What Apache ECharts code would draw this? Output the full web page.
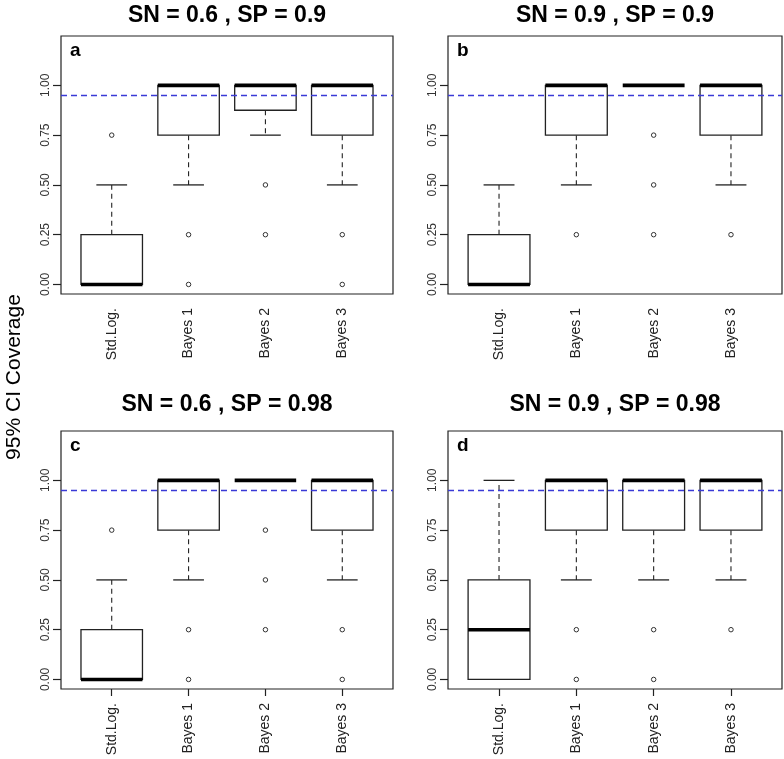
<!DOCTYPE html>
<html>
<head>
<meta charset="utf-8">
<script src="https://cdn.jsdelivr.net/npm/echarts@6/dist/echarts.min.js"></script>
<style>
html,body{margin:0;padding:0;background:#fff;}
#chart{width:784px;height:759px;}
</style>
</head>
<body>
<div id="chart"></div>
<script>
// ---- data ----
const categories = ['Std.Log.', 'Bayes 1', 'Bayes 2', 'Bayes 3'];
const panelTitles = ['SN = 0.6 , SP = 0.9', 'SN = 0.9 , SP = 0.9', 'SN = 0.6 , SP = 0.98', 'SN = 0.9 , SP = 0.98'];
const panelLetters = ['a', 'b', 'c', 'd'];
const yTicks = [0, 0.25, 0.5, 0.75, 1];
const yAxisTitle = '95% CI Coverage';
const referenceLine = 0.95;
// box stats per category: [lower whisker, Q1, median, Q3, upper whisker]
const statsA = [[0, 0, 0, 0.25, 0.5], [0.5, 0.75, 1, 1, 1], [0.75, 0.875, 1, 1, 1], [0.5, 0.75, 1, 1, 1]];
const statsB = [[0, 0, 0, 0.25, 0.5], [0.5, 0.75, 1, 1, 1], [1, 1, 1, 1, 1], [0.5, 0.75, 1, 1, 1]];
const statsC = [[0, 0, 0, 0.25, 0.5], [0.5, 0.75, 1, 1, 1], [1, 1, 1, 1, 1], [0.5, 0.75, 1, 1, 1]];
const statsD = [[0, 0, 0.25, 0.5, 1], [0.5, 0.75, 1, 1, 1], [0.5, 0.75, 1, 1, 1], [0.5, 0.75, 1, 1, 1]];
// outliers per category
const outliersA = [[0.75], [0.25, 0], [0.5, 0.25], [0.25, 0]];
const outliersB = [[], [0.25], [0.75, 0.5, 0.25], [0.25]];
const outliersC = [[0.75], [0.25, 0], [0.75, 0.5, 0.25], [0.25, 0]];
const outliersD = [[], [0.25, 0], [0.25, 0], [0.25]];

// ---- layout ----
const FONT = '"Liberation Sans", Arial, Helvetica, sans-serif';
const panels = [
  {stats: statsA, out: outliersA, left: 61, top: 36, width: 332, height: 258, ticks: false},
  {stats: statsB, out: outliersB, left: 448, top: 36, width: 334, height: 258, ticks: false},
  {stats: statsC, out: outliersC, left: 61, top: 431, width: 332, height: 258, ticks: true},
  {stats: statsD, out: outliersD, left: 448, top: 431, width: 334, height: 258, ticks: true}
];
const titleY = [16, 16, 405, 405];

const INK = '#222';

function renderBox(params, api) {
  const x = api.value(0);
  const lo = api.value(1), q1 = api.value(2), med = api.value(3), q3 = api.value(4), hi = api.value(5);
  const half = api.size([0.8, 0])[0] / 2;
  const capHalf = api.size([0.4, 0])[0] / 2;
  const cx = api.coord([x, med])[0];
  const y = v => api.coord([x, v])[1];
  const children = [];
  const dashed = {stroke: INK, lineWidth: 1.1, lineDash: [5, 4]};
  const solid = {stroke: INK, lineWidth: 1.3};
  if (hi > q3) {
    children.push({type: 'line', shape: {x1: cx, y1: y(q3), x2: cx, y2: y(hi)}, style: dashed});
    children.push({type: 'line', shape: {x1: cx - capHalf, y1: y(hi), x2: cx + capHalf, y2: y(hi)}, style: solid});
  }
  if (lo < q1) {
    children.push({type: 'line', shape: {x1: cx, y1: y(q1), x2: cx, y2: y(lo)}, style: dashed});
    children.push({type: 'line', shape: {x1: cx - capHalf, y1: y(lo), x2: cx + capHalf, y2: y(lo)}, style: solid});
  }
  if (q3 > q1) {
    children.push({type: 'rect', shape: {x: cx - half, y: y(q3), width: 2 * half, height: y(q1) - y(q3)},
      style: {fill: '#fff', stroke: INK, lineWidth: 1.3}});
  }
  children.push({type: 'line', shape: {x1: cx - half, y1: y(med), x2: cx + half, y2: y(med)},
    style: {stroke: '#000', lineWidth: 3.6}});
  return {type: 'group', children: children};
}

const grids = [], xAxes = [], yAxes = [], series = [], graphics = [];
panels.forEach((p, i) => {
  grids.push({left: p.left, top: p.top, width: p.width, height: p.height, show: true,
    borderColor: INK, borderWidth: 1.2, backgroundColor: 'transparent', containLabel: false});
  xAxes.push({
    type: 'value', gridIndex: i, min: 0.34, max: 4.66, position: 'bottom',
    axisLine: {show: false, onZero: false}, splitLine: {show: false},
    axisTick: {show: p.ticks, length: 7, customValues: [1, 2, 3, 4], lineStyle: {color: INK, width: 1.2}},
    axisLabel: {customValues: [1, 2, 3, 4], rotate: 90, margin: 14, fontSize: 14, color: INK, fontFamily: FONT,
      formatter: v => categories[Math.round(v) - 1]}
  });
  yAxes.push({
    type: 'value', gridIndex: i, min: -0.048, max: 1.248, position: 'left',
    axisLine: {show: false, onZero: false}, splitLine: {show: false},
    axisTick: {show: true, length: 8, customValues: yTicks, lineStyle: {color: INK, width: 1.2}},
    axisLabel: {customValues: yTicks, rotate: 90, margin: 9, fontSize: 12, color: '#333', fontFamily: FONT,
      formatter: v => v.toFixed(2)}
  });
  series.push({
    type: 'custom', xAxisIndex: i, yAxisIndex: i, renderItem: renderBox, silent: true, z: 2,
    encode: {x: 0, y: [1, 2, 3, 4, 5]},
    data: p.stats.map((s, k) => [k + 1].concat(s))
  });
  const outData = [];
  p.out.forEach((arr, k) => arr.forEach(v => outData.push([k + 1, v])));
  series.push({
    type: 'scatter', xAxisIndex: i, yAxisIndex: i, silent: true, z: 3,
    symbol: 'circle', symbolSize: 4.5,
    itemStyle: {color: '#fff', borderColor: '#333', borderWidth: 1, opacity: 1},
    data: outData,
    markLine: {
      silent: true, symbol: 'none', animation: false, z: 5,
      label: {show: false},
      lineStyle: {color: '#3a3ad6', type: [6, 4], width: 1.4},
      data: [{yAxis: referenceLine}]
    }
  });
  graphics.push({type: 'text', x: p.left + p.width / 2, y: titleY[i],
    style: {text: panelTitles[i], textAlign: 'center', textVerticalAlign: 'middle',
      font: 'bold 23px ' + FONT, fill: '#000'}});
  graphics.push({type: 'text', x: p.left + 9, y: p.top + 15,
    style: {text: panelLetters[i], textAlign: 'left', textVerticalAlign: 'middle',
      font: 'bold 19px ' + FONT, fill: '#000'}});
});
graphics.push({type: 'text', x: 14, y: 377, rotation: Math.PI / 2,
  style: {text: yAxisTitle, textAlign: 'center', textVerticalAlign: 'middle',
    font: '21px ' + FONT, fill: '#000'}});

const chart = echarts.init(document.getElementById('chart'), null, {renderer: 'canvas'});
chart.setOption({
  animation: false,
  backgroundColor: '#fff',
  grid: grids, xAxis: xAxes, yAxis: yAxes, series: series,
  graphic: graphics
});
</script>
</body>
</html>
